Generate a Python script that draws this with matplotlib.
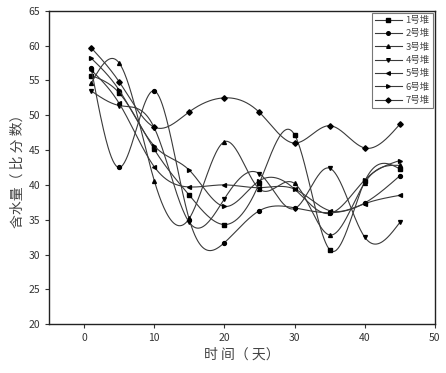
import numpy as np
import matplotlib.pyplot as plt

plt.rcParams['font.family'] = ['Noto Sans CJK SC', 'DejaVu Sans']

days = [1, 5, 10, 15, 20, 25, 30, 35, 40, 45]
pile1 = [55.7, 53.2, 45.1, 38.5, 34.3, 40.3, 47.2, 30.7, 40.5, 42.3]
pile2 = [56.8, 42.5, 53.5, 35.0, 31.7, 36.3, 36.7, 36.0, 37.4, 41.3]
pile3 = [54.6, 57.5, 40.6, 35.2, 46.2, 39.4, 40.2, 32.8, 40.3, 42.8]
pile4 = [53.5, 51.4, 48.2, 34.6, 38.0, 41.6, 36.6, 42.4, 32.5, 34.6]
pile5 = [56.5, 51.7, 42.6, 39.7, 40.0, 39.6, 39.4, 36.3, 37.3, 38.5]
pile6 = [58.2, 53.6, 45.6, 42.1, 36.9, 40.6, 39.4, 35.9, 40.7, 43.5]
pile7 = [59.7, 54.8, 48.3, 50.5, 52.5, 50.4, 46.0, 48.5, 45.3, 48.7]
labels = ['1号堆', '2号堆', '3号堆', '4号堆', '5号堆', '6号堆', '7号堆']
markers = ['s', 'o', '^', 'v', '<', '>', 'D']


# natural cubic spline, only used to draw the smooth connecting line
def spline(x, y, n=400):
    x = np.asarray(x, float)
    y = np.asarray(y, float)
    k = len(x)
    h = np.diff(x)
    A = np.zeros((k, k))
    b = np.zeros(k)
    A[0, 0] = A[-1, -1] = 1
    for i in range(1, k - 1):
        A[i, i - 1] = h[i - 1]
        A[i, i] = 2 * (h[i - 1] + h[i])
        A[i, i + 1] = h[i]
        b[i] = 6 * ((y[i + 1] - y[i]) / h[i] - (y[i] - y[i - 1]) / h[i - 1])
    M = np.linalg.solve(A, b)
    xs = np.linspace(x[0], x[-1], n)
    idx = np.clip(np.searchsorted(x, xs) - 1, 0, k - 2)
    x0, x1 = x[idx], x[idx + 1]
    hh = x1 - x0
    t0 = x1 - xs
    t1 = xs - x0
    ys = (M[idx] * t0**3 + M[idx + 1] * t1**3) / (6 * hh) \
        + (y[idx] / hh - M[idx] * hh / 6) * t0 \
        + (y[idx + 1] / hh - M[idx + 1] * hh / 6) * t1
    return xs, ys


fig = plt.figure(figsize=(4.46, 3.73), dpi=100)
ax = fig.add_axes([0.110, 0.131, 0.865, 0.840])

c = '#3a3a3a'
for vals, lab, m in zip([pile1, pile2, pile3, pile4, pile5, pile6, pile7], labels, markers):
    xs, ys = spline(days, vals)
    ax.plot(xs, ys, color=c, lw=0.8)
    ax.plot(days, vals, ls='none', marker=m, ms=2.8, color='black')
    ax.plot([], [], color=c, lw=0.8, marker=m, ms=2.6, mfc='black', mec='black', label=lab)

ax.set_xlim(-5, 50)
ax.set_ylim(20, 65)
ax.set_xticks(range(0, 51, 10))
ax.set_yticks(range(20, 66, 5))
ax.tick_params(labelsize=7.5, colors='#333333', length=3, width=0.8)
for s in ax.spines.values():
    s.set_color('#222222')
    s.set_linewidth(1.0)

ax.set_xlabel('时 间（ 天）', fontsize=10, color='#444444', labelpad=3)
ax.set_ylabel('含水量（ 比 分 数）', fontsize=10, color='#444444', labelpad=3)

leg = ax.legend(loc='upper right', fontsize=6.8, frameon=True, fancybox=False,
                edgecolor='#555555', handlelength=2.8, labelspacing=0.45,
                borderpad=0.35, handletextpad=0.4, borderaxespad=0.2)
leg.get_frame().set_linewidth(0.8)
for t in leg.get_texts():
    t.set_color('#444444')

fig.savefig('out.png', dpi=100)
